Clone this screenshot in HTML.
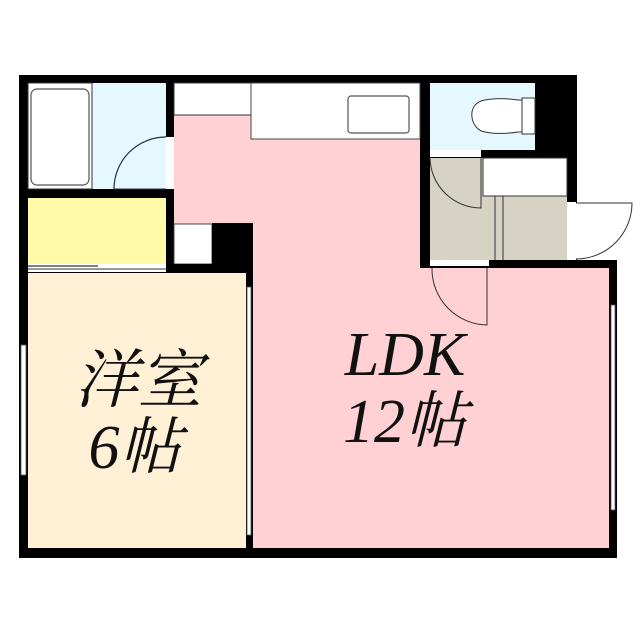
<!DOCTYPE html>
<html><head><meta charset="utf-8"><style>html,body{margin:0;padding:0;background:#fff}svg{display:block}</style></head>
<body>
<svg width="640" height="640" viewBox="0 0 640 640" xmlns="http://www.w3.org/2000/svg">
<rect width="640" height="640" fill="#fff"/>
<rect x="19" y="75" width="558" height="195" fill="#000"/>
<rect x="19" y="260" width="598" height="298" fill="#000"/>
<!-- bath -->
<rect x="28" y="83" width="138" height="106" fill="#e6f8ff"/>
<rect x="28" y="83" width="64" height="106" fill="#fff" stroke="#333" stroke-width="1"/>
<rect x="31" y="89" width="58" height="96" rx="6" fill="#fff" stroke="#555" stroke-width="1.2"/>
<!-- closet -->
<rect x="28" y="198" width="138" height="66" fill="#fffaa8"/>
<rect x="28" y="264" width="138" height="8" fill="#fff"/>
<line x1="28" y1="266" x2="98" y2="266" stroke="#555" stroke-width="1.5"/>
<line x1="28" y1="269" x2="166" y2="269" stroke="#333" stroke-width="1"/>
<!-- western room -->
<rect x="28" y="273" width="218" height="275" fill="#fff0d6"/>
<!-- pink -->
<rect x="174" y="83" width="246" height="185" fill="#ffd0d4"/>
<rect x="253" y="268" width="356" height="280" fill="#ffd0d4"/>
<rect x="253" y="200" width="167" height="80" fill="#ffd0d4"/>
<!-- counters -->
<rect x="174" y="83" width="77" height="32" fill="#fff" stroke="#333" stroke-width="1"/>
<rect x="251" y="83" width="169" height="56" fill="#fff" stroke="#444" stroke-width="1"/>
<rect x="348" y="96" width="61" height="37" rx="3" fill="#fff" stroke="#555" stroke-width="1.2"/>
<!-- black block -->
<rect x="174" y="224" width="38" height="40" fill="#fff" stroke="#444" stroke-width="1"/>
<rect x="212" y="223" width="41" height="47" fill="#000"/>
<rect x="174" y="264" width="79" height="9" fill="#000"/>
<rect x="246" y="265" width="7" height="293" fill="#000"/>
<!-- bath door -->
<rect x="166" y="137" width="8" height="52" fill="#fff"/>
<path d="M114 189 A52 52 0 0 1 166 137" fill="none" stroke="#234" stroke-width="1.2"/>
<line x1="114" y1="189" x2="166" y2="189" stroke="#234" stroke-width="1"/>
<!-- toilet -->
<rect x="430" y="83" width="105" height="67" fill="#e6f8ff"/>
<path d="M522 100 L518 100 C505 98 495 98 485 100 C465 103 470 130 485 132 C495 134 505 134 518 132 L522 132 Z" fill="#fff" stroke="#333" stroke-width="1"/>
<rect x="522" y="98" width="13" height="36" fill="#fff" stroke="#333" stroke-width="1"/>
<rect x="430" y="150" width="51" height="7" fill="#fff"/>
<!-- gray entry -->
<rect x="430" y="158" width="137" height="102" fill="#d6d2c4"/>
<rect x="483" y="158" width="84" height="38" fill="#fff" stroke="#333" stroke-width="1"/>
<line x1="495" y1="196" x2="495" y2="260" stroke="#333" stroke-width="1"/>
<line x1="503" y1="196" x2="503" y2="260" stroke="#333" stroke-width="1"/>
<path d="M430 158 A51 51 0 0 0 481 208 L481 158" fill="none" stroke="#333" stroke-width="1"/>
<!-- entrance door -->
<rect x="567" y="202" width="9" height="58" fill="#fff"/>
<path d="M576 203 L632 203 A56 56 0 0 1 576 259" fill="#fff" stroke="#333" stroke-width="1"/>
<!-- LDK door -->
<rect x="430" y="260" width="59" height="6" fill="#fff"/>
<path d="M432 268 A56 56 0 0 0 487 325 L487 268" fill="none" stroke="#333" stroke-width="1"/>
<!-- windows -->
<rect x="21" y="345" width="5" height="130" fill="#fff" stroke="#555" stroke-width="0.8"/>
<rect x="247" y="287" width="4" height="248" fill="#fff" stroke="#555" stroke-width="0.8"/>
<rect x="611" y="305" width="4" height="205" fill="#fff" stroke="#555" stroke-width="0.8"/>
<!-- labels -->
<g font-family="'Liberation Serif','Noto Serif CJK SC',serif" font-style="italic" fill="#111" text-anchor="middle">
<text x="138" y="402" font-size="64">洋室</text>
<text x="135" y="468" font-size="62">6帖</text>
<text x="405" y="375" font-size="62">LDK</text>
<text x="405" y="442" font-size="62">12帖</text>
</g>
</svg>
</body></html>
